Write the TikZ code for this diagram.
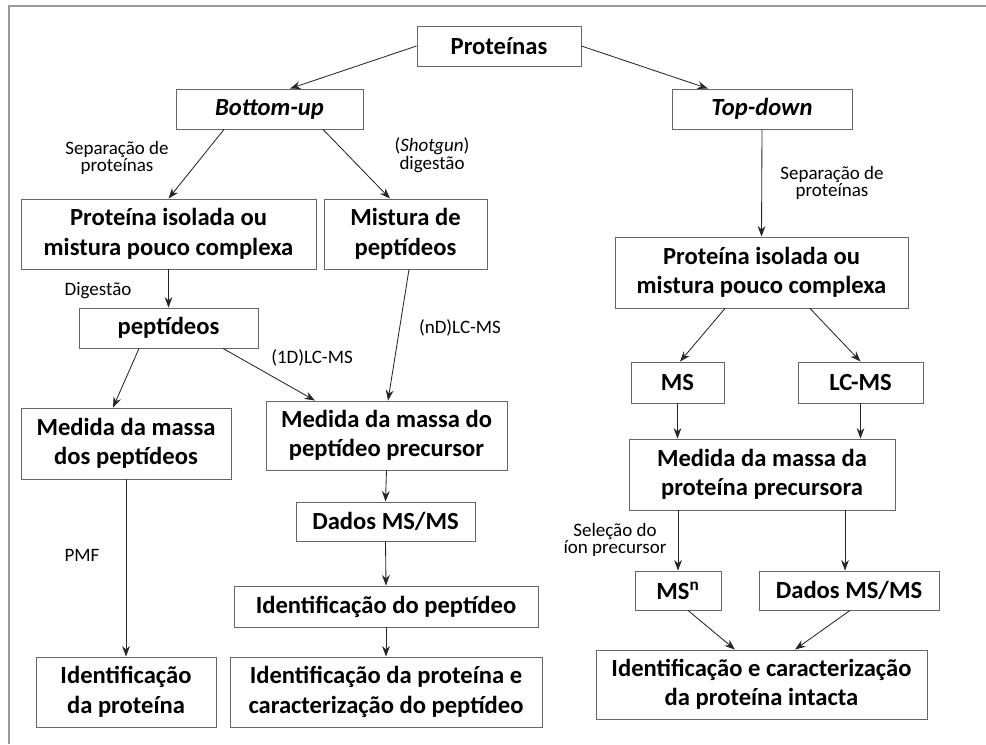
\documentclass[tikz,border=0pt]{standalone}
\usepackage{fontspec}
\setmainfont{Carlito}
\usetikzlibrary{arrows.meta,calc}

\begin{document}
\begin{tikzpicture}[x=0.025cm, y=-0.025cm,
  box/.style={rectangle, draw=gray!80!black, line width=0.6pt, fill=white,
              inner sep=0pt, align=center,
              font=\fontsize{17.5}{21}\selectfont\bfseries},
  lbl/.style={inner sep=0pt, align=center,
              font=\fontsize{13.5}{12.5}\selectfont},
  arr/.style={-{Stealth[length=7.5pt,width=5.5pt]}, line width=0.6pt, gray!30!black}
]
  \useasboundingbox (0,0) rectangle (986,744);
  % frame
  \draw[gray!80, line width=1.5pt] (9,744) -- (9,6) -- (986,6);

  \node[box, minimum width=4.1cm,   minimum height=1cm]     (prot)  at (499,46)    {Proteínas};
  \node[box, minimum width=4.675cm, minimum height=1cm]     (bu)    at (269.5,109) {\textit{Bottom-up}};
  \node[box, minimum width=4.5cm,   minimum height=1cm]     (td)    at (762,109)   {\textit{Top-down}};

  \node[box, minimum width=7.375cm, minimum height=1.75cm]  (iso1)  at (168.5,234) {Proteína isolada ou\\mistura pouco complexa};
  \node[box, minimum width=4.075cm, minimum height=1.75cm]  (mix)   at (405.5,234) {Mistura de\\peptídeos};
  \node[box, minimum width=7.325cm, minimum height=1.775cm] (iso2)  at (761.5,272.5) {Proteína isolada ou\\mistura pouco complexa};

  \node[box, minimum width=4.475cm, minimum height=1cm]     (pep)   at (168.5,328) {peptídeos};
  \node[box, minimum width=2.325cm, minimum height=1.025cm] (ms)    at (677.5,382.5) {MS};
  \node[box, minimum width=3.125cm, minimum height=1.025cm] (lcms)  at (860.5,382.5) {LC-MS};

  \node[box, minimum width=5.25cm,  minimum height=1.775cm] (mp)    at (126,443.5) {Medida da massa\\dos peptídeos};
  \node[box, minimum width=6.025cm, minimum height=1.725cm] (mpp)   at (386.5,435.5) {Medida da massa do\\peptídeo precursor};
  \node[box, minimum width=6.65cm,  minimum height=1.775cm] (mpr)   at (762,474.5) {Medida da massa da\\proteína precursora};

  \node[box, minimum width=4.475cm, minimum height=0.975cm] (dad1)  at (385.5,521.5) {Dados MS/MS};
  \node[box, minimum width=2.15cm,  minimum height=0.975cm] (msn)   at (678,590.5) {MS\textsuperscript{n}};
  \node[box, minimum width=4.5cm,   minimum height=0.975cm] (dad2)  at (849,590.5) {Dados MS/MS};
  \node[box, minimum width=7.6cm,   minimum height=1.025cm] (idpep) at (386,606.5) {Identificação do peptídeo};

  \node[box, minimum width=4.5cm,   minimum height=1.75cm]  (idp)   at (126,692) {Identificação\\da proteína};
  \node[box, minimum width=7.8cm,   minimum height=1.75cm]  (idpc)  at (386,692) {Identificação da proteína e\\caracterização do peptídeo};
  \node[box, minimum width=8.275cm, minimum height=1.725cm] (idc)   at (761.5,684.5) {Identificação e caracterização\\da proteína intacta};

  % labels
  \node[lbl] (l1) at (117,158) {Separação de\\proteínas};
  \node[lbl] (l2) at (432,155) {(\textit{Shotgun})\\digestão};
  \node[lbl] (l3) at (832,183) {Separação de\\proteínas};
  \node[lbl] (l4) at (98,291)  {Digestão};
  \node[lbl] (l5) at (312,358) {(1D)LC-MS};
  \node[lbl] (l6) at (460,328) {(nD)LC-MS};
  \node[lbl] (l7) at (82,555)  {PMF};
  \node[lbl] (l8) at (615,540) {Seleção do\\íon precursor};

  % connectors
  \draw[arr] (prot.west) -- ($(bu.north)+(20.5,0)$);
  \draw[arr] (prot.east) -- ($(td.north)+(-54,0)$);
  \draw[arr] ($(bu.south)+(-45.5,0)$) -- (iso1.north);
  \draw[arr] ($(bu.south)+(53.5,0)$) -- ($(mix.north)+(-15.5,0)$);
  \draw[arr] (td.south) -- (iso2.north);
  \draw[arr] (iso1.south) -- (pep.north);
  \draw[arr] ($(pep.south)+(-29.5,0)$) -- ($(mp.north)+(-13,0)$);
  \draw[arr] ($(pep.south)+(54.5,0)$) -- ($(mpp.north)+(-71.5,0)$);
  \draw[arr] ($(mix.south)+(3.5,0)$) -- ($(mpp.north)+(1.5,0)$);
  \draw[arr] ($(iso2.south)+(-36.5,0)$) -- ($(ms.north)+(2.5,0)$);
  \draw[arr] ($(iso2.south)+(48.5,0)$) -- (lcms.north);
  \draw[arr] (ms.south) -- (ms.south |- mpr.north);
  \draw[arr] (lcms.south) -- (lcms.south |- mpr.north);
  \draw[arr] (mp.south) -- (idp.north);
  \draw[arr] (mpp.south) -- (dad1.north);
  \draw[arr] (dad1.south) -- (idpep.north);
  \draw[arr] (idpep.south) -- (idpc.north);
  \draw[arr] (mpr.south -| msn.north) -- (msn.north);
  \draw[arr] ($(mpr.south -| dad2.north)+(-4,0)$) -- ($(dad2.north)+(-4,0)$);
  \draw[arr] ($(msn.south)+(10,0)$) -- ($(idc.north)+(-26.5,0)$);
  \draw[arr] ($(dad2.south)+(1,0)$) -- ($(idc.north)+(33.5,0)$);
\end{tikzpicture}
\end{document}
